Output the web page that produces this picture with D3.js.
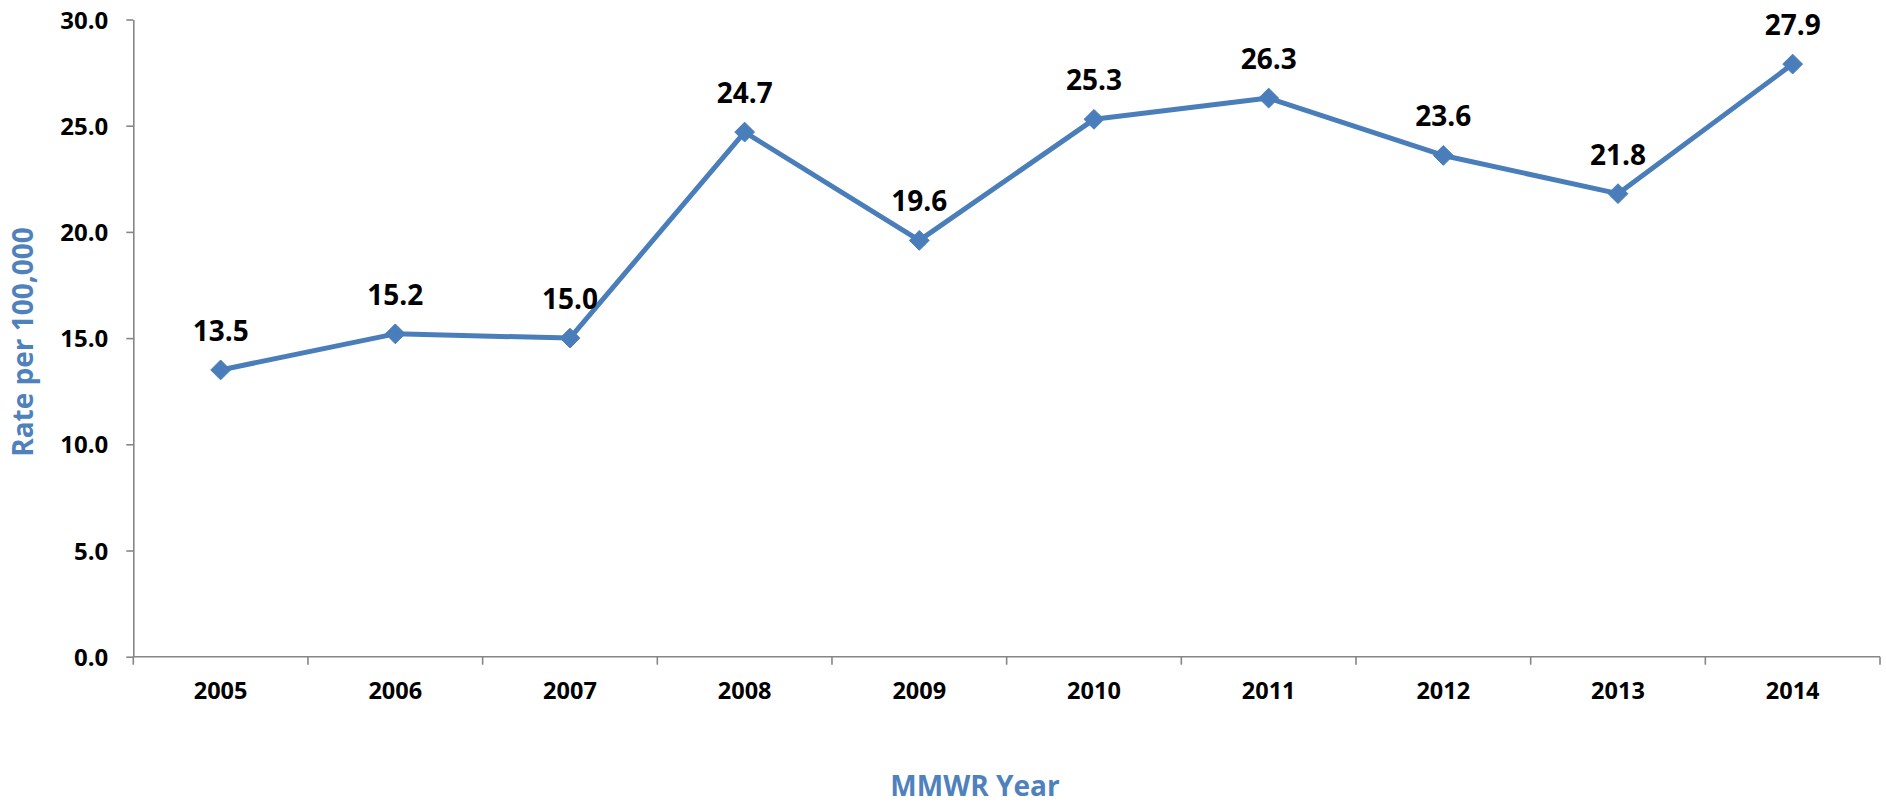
<!DOCTYPE html>
<html>
<head>
<meta charset="utf-8">
<script src="https://cdn.jsdelivr.net/npm/d3@7"></script>
<style>
  html, body { margin: 0; padding: 0; background: #fff; }
  svg { display: block; }
  text { font-family: "Open Sans", "DejaVu Sans", sans-serif; font-weight: bold; }
</style>
</head>
<body>
<svg id="chart" width="1886" height="805"></svg>
<script>
const years = ["2005","2006","2007","2008","2009","2010","2011","2012","2013","2014"];
const rates = [13.5, 15.2, 15.0, 24.7, 19.6, 25.3, 26.3, 23.6, 21.8, 27.9];
const yTicks = [0, 5, 10, 15, 20, 25, 30];
const xTitle = "MMWR Year";
const yTitle = "Rate per 100,000";

const W = 1886, H = 805;
const m = { left: 133.3, right: 6, top: 19.5, bottom: 148.3 };
const svg = d3.select("#chart");
const axisColor = "#868686";
const blue = "#4A7EBB";
const titleBlue = "#4F81BD";

const x = d3.scaleBand().domain(years).range([m.left, W - m.right]).padding(0);
const y = d3.scaleLinear().domain([0, 30]).range([H - m.bottom, m.top]);

// Y axis
const yAxis = svg.append("g")
  .attr("transform", `translate(${m.left},0)`)
  .call(d3.axisLeft(y).tickValues(yTicks).tickFormat(d3.format(".1f")).tickSize(7).tickSizeOuter(0));
yAxis.select(".domain").attr("stroke", axisColor).attr("stroke-width", 1.6);
yAxis.selectAll(".tick line").attr("stroke", axisColor).attr("stroke-width", 1.6);
yAxis.selectAll(".tick text")
  .attr("x", -25).attr("dy", "0.36em")
  .attr("fill", "#000").style("font-size", "24px").style("font-family", "'Open Sans', sans-serif").style("font-weight", "bold");

// X axis line
const y0 = y(0);
svg.append("line")
  .attr("x1", x.range()[0]).attr("x2", x.range()[1])
  .attr("y1", y0).attr("y2", y0)
  .attr("stroke", axisColor).attr("stroke-width", 1.6);
// X ticks at band boundaries
const boundaries = years.map(d => x(d)).concat([x(years[years.length-1]) + x.bandwidth()]);
svg.append("g").selectAll("line").data(boundaries).join("line")
  .attr("x1", d => d).attr("x2", d => d)
  .attr("y1", y0).attr("y2", y0 + 8)
  .attr("stroke", axisColor).attr("stroke-width", 1.6);
// X tick labels
svg.append("g").selectAll("text").data(years).join("text")
  .attr("x", d => x(d) + x.bandwidth()/2)
  .attr("y", 699)
  .attr("text-anchor", "middle")
  .attr("fill", "#000")
  .style("font-size", "23.5px")
  .text(d => d);

// Line
const data = years.map((d, i) => ({ year: d, v: rates[i] }));
const cx = d => x(d.year) + x.bandwidth()/2;
svg.append("path")
  .datum(data)
  .attr("fill", "none")
  .attr("stroke", blue)
  .attr("stroke-width", 5)
  .attr("stroke-linejoin", "round")
  .attr("d", d3.line().x(cx).y(d => y(d.v)));

// Markers (diamonds)
svg.append("g").selectAll("path").data(data).join("path")
  .attr("transform", d => `translate(${cx(d)},${y(d.v)})`)
  .attr("d", d3.symbol().type(d3.symbolDiamond2).size(250))
  .attr("fill", blue)
  .attr("stroke", blue)
  .attr("stroke-width", 1);

// Data labels
svg.append("g").selectAll("text").data(data).join("text")
  .attr("x", cx)
  .attr("y", d => y(d.v) - 29)
  .attr("text-anchor", "middle")
  .attr("fill", "#000")
  .style("font-size", "28px")
  .text(d => d3.format(".1f")(d.v));

// Axis titles
svg.append("text")
  .attr("x", 975).attr("y", 796)
  .attr("text-anchor", "middle")
  .attr("fill", titleBlue)
  .style("font-size", "28px")
  .text(xTitle);

svg.append("text")
  .attr("transform", `translate(33,342) rotate(-90)`)
  .attr("text-anchor", "middle")
  .attr("fill", titleBlue)
  .style("font-size", "28px")
  .text(yTitle);
</script>
</body>
</html>
